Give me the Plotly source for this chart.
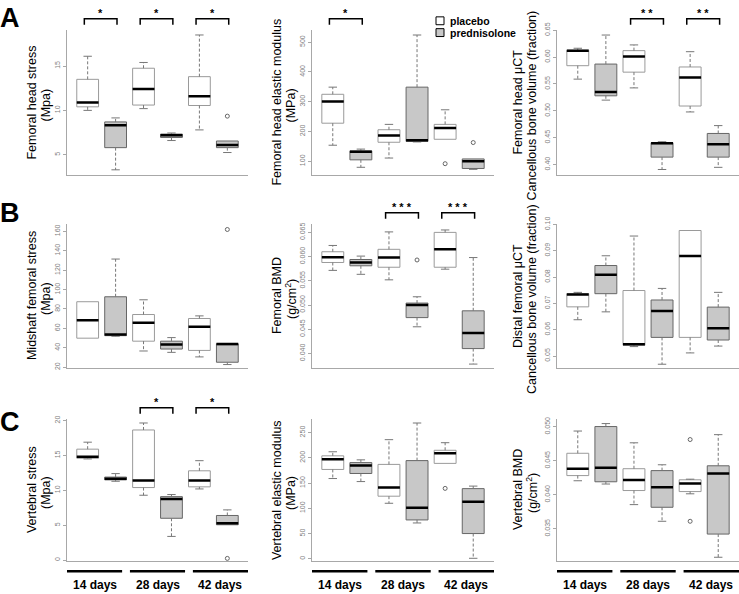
import plotly.graph_objects as go

# box stats: [lower whisker, Q1, median, Q3, upper whisker]
# order: 14d placebo, 14d pred, 28d placebo, 28d pred, 42d placebo, 42d pred
fh_stress = [
    [10.0, 10.4, 10.9, 13.5, 16.1],
    [3.3, 5.8, 8.33, 8.7, 9.15],
    [10.2, 10.6, 12.4, 14.75, 15.4],
    [6.6, 6.95, 7.2, 7.33, 7.45],
    [7.8, 10.55, 11.6, 13.8, 18.5],
    [5.25, 5.8, 6.1, 6.55, 6.55],
]
fh_stress_out = [[], [], [], [], [], [9.35]]

fh_modulus = [
    [154, 228, 301, 325, 349],
    [80, 105, 132, 135, 141],
    [111, 164, 187, 206, 224],
    [165, 167, 171, 349, 524],
    [174, 174, 212, 224, 273],
    [73, 76, 100, 108, 108],
]
fh_modulus_out = [[], [], [], [], [92], [163]]

fh_uct = [
    [0.559, 0.584, 0.6116, 0.6128, 0.6164],
    [0.520, 0.528, 0.535, 0.587, 0.641],
    [0.5427, 0.572, 0.601, 0.612, 0.6226],
    [0.391, 0.414, 0.4397, 0.4408, 0.4426],
    [0.498, 0.509, 0.5622, 0.5816, 0.610],
    [0.395, 0.414, 0.4378, 0.458, 0.4726],
]
fh_uct_out = [[], [], [], [], [], []]

mid_stress = [
    [49.9, 49.9, 68.5, 87.5, 87.5],
    [51.9, 52.5, 53.6, 92.6, 131.5],
    [36.7, 46.8, 65.8, 74.3, 89.5],
    [35.3, 38.7, 43.4, 46.8, 50.5],
    [30.6, 37.3, 61.7, 70.2, 72.9],
    [22.7, 25.1, 43.8, 44.1, 44.1],
]
mid_stress_out = [[], [], [], [], [], [162]]

fem_bmd = [
    [0.05715, 0.05878, 0.05986, 0.0610, 0.0623],
    [0.05634, 0.0581, 0.0588, 0.0594, 0.0601],
    [0.0552, 0.0578, 0.0598, 0.0615, 0.0651],
    [0.0455, 0.0474, 0.0500, 0.0504, 0.0517],
    [0.0574, 0.0578, 0.0615, 0.0650, 0.0655],
    [0.0378, 0.0410, 0.0442, 0.0488, 0.0598],
]
fem_bmd_out = [[], [], [], [0.0593], [], []]

distal_uct = [
    [0.0638, 0.0687, 0.0734, 0.0737, 0.0742],
    [0.0668, 0.0737, 0.0809, 0.0844, 0.0881],
    [0.0536, 0.0541, 0.0545, 0.0749, 0.0956],
    [0.0469, 0.0571, 0.0671, 0.0713, 0.0757],
    [0.0512, 0.0571, 0.0880, 0.0977, 0.0977],
    [0.0538, 0.0561, 0.0606, 0.0686, 0.0742],
]
distal_uct_out = [[], [], [], [], [], []]

vert_stress = [
    [14.5, 14.6, 14.8, 15.9, 16.9],
    [11.3, 11.5, 11.65, 11.9, 12.4],
    [9.3, 10.4, 11.4, 18.65, 19.65],
    [3.4, 6.0, 8.76, 9.1, 9.4],
    [10.2, 10.5, 11.4, 12.8, 14.25],
    [5.07, 5.07, 5.3, 6.4, 7.2],
]
vert_stress_out = [[], [], [], [], [], [0.25]]

vert_modulus = [
    [159, 177, 197, 204, 212],
    [153, 169, 185, 190.6, 196],
    [110, 124, 141, 187, 236],
    [71, 77, 101, 194.5, 269],
    [189, 189, 209, 215, 230],
    [1, 50, 113, 139, 144],
]
vert_modulus_out = [[], [], [], [], [139.5], []]

vert_bmd = [
    [0.04207, 0.04283, 0.04384, 0.04611, 0.04938],
    [0.04159, 0.04192, 0.04399, 0.05004, 0.05048],
    [0.03856, 0.04063, 0.04217, 0.04384, 0.04765],
    [0.03611, 0.03817, 0.0411, 0.04356, 0.04442],
    [0.04015, 0.04048, 0.04168, 0.04221, 0.0423],
    [0.03082, 0.03423, 0.04312, 0.04427, 0.04885],
]
vert_bmd_out = [[], [], [], [], [0.04813, 0.03611], []]

groups = ["14 days", "28 days", "42 days"]
treatments = ["placebo", "prednisolone"]

# significance per panel: (group index, label)
sig = {
    1: [(0, "*"), (1, "*"), (2, "*")],
    2: [(0, "*")],
    3: [(1, "* *"), (2, "* *")],
    5: [(1, "* * *"), (2, "* * *")],
    7: [(1, "*"), (2, "*")],
}

W, H = 739, 594
FONT = "Liberation Sans, Arial, Helvetica, sans-serif"
BOX_W = 0.78
FILLS = ["white", "#c8c8c8"]
EDGES = ["#9a9a9a", "#666666"]
AXIS_COL = "#a8a8a8"

panels = [
    dict(stats=fh_stress, out=fh_stress_out, title=["Femoral head stress", "(Mpa)"],
         rng=[2.67, 19.1], dtick=5, fmt=""),
    dict(stats=fh_modulus, out=fh_modulus_out, title=["Femoral head elastic modulus", "(MPa)"],
         rng=[52.7, 542], dtick=100, fmt=""),
    dict(stats=fh_uct, out=fh_uct_out, title=["Femoral head \u03bcCT", "Cancellous bone volume (fraction)"],
         rng=[0.380, 0.651], dtick=0.05, fmt=".2f"),
    dict(stats=mid_stress, out=mid_stress_out, title=["Midshaft femoral stress", "(Mpa)"],
         rng=[18.7, 168], dtick=20, fmt=""),
    dict(stats=fem_bmd, out=fem_bmd_out, title=["Femoral BMD", "(g/cm<sup>2</sup>)"],
         rng=[0.0369, 0.0668], dtick=0.005, fmt=".3f"),
    dict(stats=distal_uct, out=distal_uct_out, title=["Distal femoral \u03bcCT", "Cancellous bone volume (fraction)"],
         rng=[0.0453, 0.1003], dtick=0.01, fmt=".2f"),
    dict(stats=vert_stress, out=vert_stress_out, title=["Vertebral stress", "(Mpa)"],
         rng=[-0.19, 20.27], dtick=5, fmt=""),
    dict(stats=vert_modulus, out=vert_modulus_out, title=["Vertebral elastic modulus", "(MPa)"],
         rng=[-5.3, 277.6], dtick=50, fmt=""),
    dict(stats=vert_bmd, out=vert_bmd_out, title=["Vertebral BMD", "(g/cm<sup>2</sup>)"],
         rng=[0.0302, 0.0512], dtick=0.005, fmt=".3f"),
]

# panel placement in pixels of the 739x594 page
col_px = [(67, 248), (312, 494), (557, 739)]
row_px = [(23, 171), (220, 367), (418, 563)]
title_x_px = [39, 284, 525]
letters = [("A", 11), ("B", 209), ("C", 421)]


def px_x(v):
    return v / W


def px_y(v):
    return 1 - v / H


fig = go.Figure()
layout = dict(
    width=W, height=H, margin=dict(l=0, r=0, t=0, b=0),
    paper_bgcolor="white", plot_bgcolor="white",
    font=dict(family=FONT, color="black"),
    boxmode="overlay", showlegend=False,
)
shapes, annotations = [], []

for n, p in enumerate(panels, start=1):
    r, c = divmod(n - 1, 3)
    xa, ya = f"x{n}", f"y{n}"
    stats = p["stats"]
    pos = list(range(1, len(stats) + 1))

    for g in range(2):
        idx = [i for i in range(len(stats)) if i % 2 == g]
        fig.add_trace(go.Box(
            x=[pos[i] for i in idx],
            q1=[stats[i][1] for i in idx],
            median=[stats[i][2] for i in idx],
            q3=[stats[i][3] for i in idx],
            lowerfence=[stats[i][1] for i in idx],
            upperfence=[stats[i][3] for i in idx],
            width=BOX_W, fillcolor=FILLS[g], line=dict(color=EDGES[g], width=1),
            boxpoints=False, whiskerwidth=0, xaxis=xa, yaxis=ya,
            name=treatments[g], hoverinfo="skip",
        ))

    wx, wy, sx, sy, mx, my, ox, oy = [], [], [], [], [], [], [], []
    for i, (lo, q1, med, q3, hi) in enumerate(stats):
        x = pos[i]
        if hi > q3:
            wx += [x, x, None]
            wy += [q3, hi, None]
            sx += [x - 0.15, x + 0.15, None]
            sy += [hi, hi, None]
        if lo < q1:
            wx += [x, x, None]
            wy += [q1, lo, None]
            sx += [x - 0.15, x + 0.15, None]
            sy += [lo, lo, None]
        mx += [x - BOX_W / 2, x + BOX_W / 2, None]
        my += [med, med, None]
        for v in p["out"][i]:
            ox.append(x)
            oy.append(v)

    fig.add_trace(go.Scatter(x=wx, y=wy, mode="lines", line=dict(color="#777777", width=1, dash="3px,2px"),
                             xaxis=xa, yaxis=ya, hoverinfo="skip"))
    fig.add_trace(go.Scatter(x=sx, y=sy, mode="lines", line=dict(color="#777777", width=1),
                             xaxis=xa, yaxis=ya, hoverinfo="skip"))
    fig.add_trace(go.Scatter(x=mx, y=my, mode="lines", line=dict(color="black", width=2.5),
                             xaxis=xa, yaxis=ya, hoverinfo="skip"))
    if ox:
        fig.add_trace(go.Scatter(x=ox, y=oy, mode="markers",
                                 marker=dict(symbol="circle-open", size=4, color="#666666", line=dict(width=1)),
                                 xaxis=xa, yaxis=ya, hoverinfo="skip"))

    x0, x1 = col_px[c]
    ytop, ybot = row_px[r]
    suffix = "" if n == 1 else str(n)
    layout["xaxis" + suffix] = dict(
        domain=[px_x(x0), px_x(x1)], anchor=ya, range=[0.26, 6.74],
        showline=True, linecolor=AXIS_COL, linewidth=1, ticks="", showticklabels=False,
        showgrid=False, zeroline=False,
    )
    layout["yaxis" + suffix] = dict(
        domain=[px_y(ybot), px_y(ytop)], anchor=xa, range=p["rng"],
        showline=True, linecolor=AXIS_COL, linewidth=1, ticks="outside", ticklen=3,
        tickcolor=AXIS_COL, tick0=0, dtick=p["dtick"], tickformat=p["fmt"],
        tickangle=-90, tickfont=dict(size=7, color="#808080"),
        showgrid=False, zeroline=False,
    )

    # two-line y title, one annotation per line
    for k, line in enumerate(p["title"]):
        annotations.append(dict(
            text=line, textangle=-90, x=px_x(title_x_px[c] - 7 + 14 * k), y=px_y((ytop + ybot) / 2 + 3 * k),
            xref="paper", yref="paper", showarrow=False, font=dict(size=12.5),
            xanchor="center", yanchor="middle",
        ))

    # significance brackets above the panel
    for g, label in sig.get(n, []):
        b0, b1 = 2 * g + 1 - 0.12, 2 * g + 2 + 0.05
        ytop_b, ydrop = px_y(ytop - 11), px_y(ytop - 5)
        shapes.append(dict(type="path", xref=xa, yref="paper",
                           path=f"M {b0},{ydrop} L {b0},{ytop_b} L {b1},{ytop_b} L {b1},{ydrop}",
                           line=dict(color="black", width=1.5)))
        annotations.append(dict(text=f"<b>{label}</b>", x=(b0 + b1) / 2, y=px_y(ytop - 11),
                                xref=xa, yref="paper", showarrow=False, font=dict(size=11),
                                xanchor="center", yanchor="bottom", yshift=-2))

# day labels under the bottom row
seg = (6.74 - 0.26 + 0.28) / 3
for n in (7, 8, 9):
    for k, lab in enumerate(groups):
        s0 = 0.26 + k * seg
        s1 = s0 + seg - 0.28
        shapes.append(dict(type="line", xref=f"x{n}", yref="paper", x0=s0, x1=s1,
                           y0=px_y(573), y1=px_y(573), line=dict(color="black", width=2.5)))
        annotations.append(dict(text=f"<b>{lab}</b>", x=(s0 + s1) / 2, y=px_y(587),
                                xref=f"x{n}", yref="paper", showarrow=False,
                                font=dict(size=12), xanchor="center", yanchor="middle"))

for letter, ypx in letters:
    annotations.append(dict(text=f"<b>{letter}</b>", x=px_x(10), y=px_y(ypx), xref="paper", yref="paper",
                            showarrow=False, font=dict(size=27), xanchor="center", yanchor="middle"))

# small key next to the top middle panel
for g, name in enumerate(treatments):
    ky = 14 + 12 * g
    shapes.append(dict(type="rect", xref="paper", yref="paper",
                       x0=px_x(436), x1=px_x(444), y0=px_y(ky + 4), y1=px_y(ky - 4),
                       fillcolor=FILLS[g], line=dict(color="black", width=1)))
    annotations.append(dict(text=f"<b>{name}</b>", x=px_x(448), y=px_y(ky), xref="paper", yref="paper",
                            showarrow=False, font=dict(size=10.5), xanchor="left", yanchor="middle"))

layout["shapes"] = shapes
layout["annotations"] = annotations
fig.update_layout(**layout)

fig.write_html("out.html", config={"displayModeBar": False},
               post_script="document.body.style.margin='0px';")
